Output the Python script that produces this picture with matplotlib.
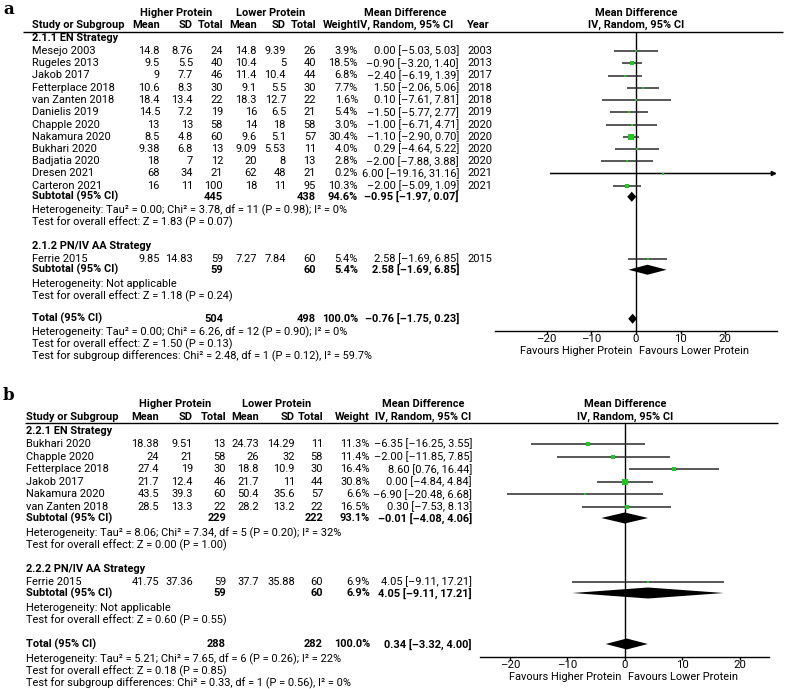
import matplotlib.pyplot as plt
from matplotlib.patches import Polygon

W, H = 787, 689
GREEN = "#1ec81e"
CI_COLOR = "#2a2a2a"
FS = 7.9
plt.rcParams["font.family"] = ["Roboto", "DejaVu Sans"]

# ---------------- panel a ----------------
a_en_names = ["Mesejo 2003", "Rugeles 2013", "Jakob 2017", "Fetterplace 2018",
              "van Zanten 2018", "Danielis 2019", "Chapple 2020", "Nakamura 2020",
              "Bukhari 2020", "Badjatia 2020", "Dresen 2021", "Carteron 2021"]
a_en_hi_mean = [14.8, 9.5, 9, 10.6, 18.4, 14.5, 13, 8.5, 9.38, 18, 68, 16]
a_en_hi_sd = [8.76, 5.5, 7.7, 8.3, 13.4, 7.2, 13, 4.8, 6.8, 7, 34, 11]
a_en_hi_n = [24, 40, 46, 30, 22, 19, 58, 60, 13, 12, 21, 100]
a_en_lo_mean = [14.8, 10.4, 11.4, 9.1, 18.3, 16, 14, 9.6, 9.09, 20, 62, 18]
a_en_lo_sd = [9.39, 5, 10.4, 5.5, 12.7, 6.5, 18, 5.1, 5.53, 8, 48, 11]
a_en_lo_n = [26, 40, 44, 30, 22, 21, 58, 57, 11, 13, 21, 95]
a_en_weight = [3.9, 18.5, 6.8, 7.7, 1.6, 5.4, 3.0, 30.4, 4.0, 2.8, 0.2, 10.3]
a_en_md = [0.00, -0.90, -2.40, 1.50, 0.10, -1.50, -1.00, -1.10, 0.29, -2.00, 6.00, -2.00]
a_en_ci_lo = [-5.03, -3.20, -6.19, -2.06, -7.61, -5.77, -6.71, -2.90, -4.64, -7.88, -19.16, -5.09]
a_en_ci_hi = [5.03, 1.40, 1.39, 5.06, 7.81, 2.77, 4.71, 0.70, 5.22, 3.88, 31.16, 1.09]
a_en_year = [2003, 2013, 2017, 2018, 2018, 2019, 2020, 2020, 2020, 2020, 2021, 2021]
a_en_sub = (445, 438, 94.6, -0.95, -1.97, 0.07)
a_en_het = "Heterogeneity: Tau² = 0.00; Chi² = 3.78, df = 11 (P = 0.98); I² = 0%"
a_en_z = "Test for overall effect: Z = 1.83 (P = 0.07)"

a_pn_names = ["Ferrie 2015"]
a_pn_hi_mean = [9.85]
a_pn_hi_sd = [14.83]
a_pn_hi_n = [59]
a_pn_lo_mean = [7.27]
a_pn_lo_sd = [7.84]
a_pn_lo_n = [60]
a_pn_weight = [5.4]
a_pn_md = [2.58]
a_pn_ci_lo = [-1.69]
a_pn_ci_hi = [6.85]
a_pn_year = [2015]
a_pn_sub = (59, 60, 5.4, 2.58, -1.69, 6.85)
a_pn_het = "Heterogeneity: Not applicable"
a_pn_z = "Test for overall effect: Z = 1.18 (P = 0.24)"

a_total = (504, 498, 100.0, -0.76, -1.75, 0.23)
a_total_notes = ["Heterogeneity: Tau² = 0.00; Chi² = 6.26, df = 12 (P = 0.90); I² = 0%",
                 "Test for overall effect: Z = 1.50 (P = 0.13)",
                 "Test for subgroup differences: Chi² = 2.48, df = 1 (P = 0.12), I² = 59.7%"]

# ---------------- panel b ----------------
b_en_names = ["Bukhari 2020", "Chapple 2020", "Fetterplace 2018", "Jakob 2017",
              "Nakamura 2020", "van Zanten 2018"]
b_en_hi_mean = [18.38, 24, 27.4, 21.7, 43.5, 28.5]
b_en_hi_sd = [9.51, 21, 19, 12.4, 39.3, 13.3]
b_en_hi_n = [13, 58, 30, 46, 60, 22]
b_en_lo_mean = [24.73, 26, 18.8, 21.7, 50.4, 28.2]
b_en_lo_sd = [14.29, 32, 10.9, 11, 35.6, 13.2]
b_en_lo_n = [11, 58, 30, 44, 57, 22]
b_en_weight = [11.3, 11.4, 16.4, 30.8, 6.6, 16.5]
b_en_md = [-6.35, -2.00, 8.60, 0.00, -6.90, 0.30]
b_en_ci_lo = [-16.25, -11.85, 0.76, -4.84, -20.48, -7.53]
b_en_ci_hi = [3.55, 7.85, 16.44, 4.84, 6.68, 8.13]
b_en_sub = (229, 222, 93.1, -0.01, -4.08, 4.06)
b_en_het = "Heterogeneity: Tau² = 8.06; Chi² = 7.34, df = 5 (P = 0.20); I² = 32%"
b_en_z = "Test for overall effect: Z = 0.00 (P = 1.00)"

b_pn_names = ["Ferrie 2015"]
b_pn_hi_mean = [41.75]
b_pn_hi_sd = [37.36]
b_pn_hi_n = [59]
b_pn_lo_mean = [37.7]
b_pn_lo_sd = [35.88]
b_pn_lo_n = [60]
b_pn_weight = [6.9]
b_pn_md = [4.05]
b_pn_ci_lo = [-9.11]
b_pn_ci_hi = [17.21]
b_pn_sub = (59, 60, 6.9, 4.05, -9.11, 17.21)
b_pn_het = "Heterogeneity: Not applicable"
b_pn_z = "Test for overall effect: Z = 0.60 (P = 0.55)"

b_total = (288, 282, 100.0, 0.34, -3.32, 4.00)
b_total_notes = ["Heterogeneity: Tau² = 5.21; Chi² = 7.65, df = 6 (P = 0.26); I² = 22%",
                 "Test for overall effect: Z = 0.18 (P = 0.85)",
                 "Test for subgroup differences: Chi² = 0.33, df = 1 (P = 0.56), I² = 0%"]

ticks = [-20, -10, 0, 10, 20]


def group(title, names, hm, hs, hn, lm, ls, ln, w, md, lo, hi, sub, het, z, year=None):
    return dict(title=title, names=names, hm=hm, hs=hs, hn=hn, lm=lm, ls=ls, ln=ln,
                w=w, md=md, lo=lo, hi=hi, sub=sub, het=het, z=z, year=year)


def ci_str(md, lo, hi):
    return f"{md:.2f} [{lo:.2f}, {hi:.2f}]".replace("-", "–")


def draw_panel(fig, bg, groups, total, notes, L):
    fs_kw = dict(fontsize=FS, va="center")
    bold = dict(fontsize=FS, va="center", fontweight="bold")
    cols = L["cols"]
    bg.text(3, L["label_y"], L["label"], fontsize=12, fontweight="bold",
            family="DejaVu Serif", va="center")
    # column headers
    y1, y2 = L["hdr"]
    bg.text(L["hi_c"], y1, "Higher Protein", ha="center", **bold)
    bg.text(L["lo_c"], y1, "Lower Protein", ha="center", **bold)
    bg.text(L["md_c"], y1, "Mean Difference", ha="center", **bold)
    bg.text(L["md_c"], y2, "IV, Random, 95% CI", ha="center", **bold)
    bg.text(L["study_x"], y2, "Study or Subgroup", ha="left", **bold)
    for cx, lab in zip(cols, ["Mean", "SD", "Total", "Mean", "SD", "Total", "Weight"]):
        bg.text(cx, y2, lab, ha="right", **bold)
    if L.get("year_x"):
        bg.text(L["year_x"], y2, "Year", ha="left", **bold)
    bg.hlines(L["rule_y"], L["rule_x"][0], L["rule_x"][1], color="black", lw=1.0)

    # forest axes: data units horizontally, pixel rows vertically
    x0, x1 = L["ax_px"]
    top, bot = L["rule_y"], L["axis_y"]
    ax = fig.add_axes([x0 / W, 1 - bot / H, (x1 - x0) / W, (bot - top) / H])
    ax.set_xlim(*L["xlim"])
    ax.set_ylim(bot, top)
    ax.patch.set_alpha(0)
    for s in ["top", "left", "right"]:
        ax.spines[s].set_visible(False)
    ax.spines["bottom"].set_linewidth(1.0)
    ax.set_yticks([])
    ax.set_xticks(ticks)
    ax.set_xticklabels([str(t).replace("-", "–") for t in ticks], fontsize=FS + 0.3)
    ax.tick_params(axis="x", length=2.5, width=1.0, pad=0)
    ax.axvline(0, color="black", lw=1.0, zorder=1)
    fav_y = L["fav_y"]
    ax.annotate("Favours Higher Protein", xy=(0, fav_y), xytext=(-2.5, 0),
                textcoords="offset points", ha="right", annotation_clip=False, **fs_kw)
    ax.annotate("Favours Lower Protein", xy=(0, fav_y), xytext=(2.5, 0),
                textcoords="offset points", ha="left", annotation_clip=False, **fs_kw)
    zx = x0 + (0 - L["xlim"][0]) / (L["xlim"][1] - L["xlim"][0]) * (x1 - x0)
    bg.text(zx, y1, "Mean Difference", ha="center", **bold)
    bg.text(zx, y2, "IV, Random, 95% CI", ha="center", **bold)

    def diamond(md, lo, hi, y):
        ax.add_patch(Polygon([(lo, y), (md, y - L["dh"]), (hi, y), (md, y + L["dh"])],
                             closed=True, color="black", lw=0, zorder=3))

    def summary_row(y, label, vals):
        n1, n2, wt, md, lo, hi = vals
        bg.text(L["study_x"], y, label, ha="left", **bold)
        bg.text(cols[2], y, str(n1), ha="right", **bold)
        bg.text(cols[5], y, str(n2), ha="right", **bold)
        bg.text(cols[6], y, f"{wt:.1f}%", ha="right", **bold)
        bg.text(L["ci_x"], y, ci_str(md, lo, hi), ha="right", **bold)
        diamond(md, lo, hi, y)

    y = L["y0"]
    for g in groups:
        bg.text(L["study_x"], y, g["title"], ha="left", **bold)
        y += L["title_gap"]
        for i, name in enumerate(g["names"]):
            bg.text(L["study_x"], y, name, ha="left", **fs_kw)
            vals = [g["hm"][i], g["hs"][i], g["hn"][i], g["lm"][i], g["ls"][i], g["ln"][i]]
            for cx, v in zip(cols[:6], vals):
                bg.text(cx, y, f"{v:g}", ha="right", **fs_kw)
            bg.text(cols[6], y, f"{g['w'][i]:.1f}%", ha="right", **fs_kw)
            bg.text(L["ci_x"], y, ci_str(g["md"][i], g["lo"][i], g["hi"][i]),
                    ha="right", **fs_kw)
            if g["year"] is not None:
                bg.text(L["year_x"], y, str(g["year"][i]), ha="left", **fs_kw)
            lo, hi = g["lo"][i], g["hi"][i]
            if hi > L["arrow_at"]:
                ax.annotate("", xy=(L["xlim"][1], y), xytext=(lo, y),
                            arrowprops=dict(arrowstyle="-|>", lw=1.1, color="black",
                                            mutation_scale=7, shrinkA=0, shrinkB=0))
            else:
                ax.hlines(y, lo, hi, color=CI_COLOR, lw=1.1, zorder=2)
            side = max(2.0, g["w"][i] ** 0.5) * 0.72
            ax.scatter([g["md"][i]], [y], s=side ** 2, marker="s", color=GREEN,
                       linewidths=0, zorder=4)
            last = y
            y += L["step"]
        y = last + L["sub_gap"]
        summary_row(y, "Subtotal (95% CI)", g["sub"])
        y += L["het_gap"]
        bg.text(L["study_x"], y, g["het"], ha="left", **fs_kw)
        y += L["note_gap"]
        bg.text(L["study_x"], y, g["z"], ha="left", **fs_kw)
        y += L["block_gap"]
    summary_row(y, "Total (95% CI)", total)
    y += L["het_gap"]
    for note in notes:
        bg.text(L["study_x"], y, note, ha="left", **fs_kw)
        y += L["note_gap"]


fig = plt.figure(figsize=(W / 100, H / 100), dpi=100)
bg = fig.add_axes([0, 0, 1, 1])
bg.set_xlim(0, W)
bg.set_ylim(H, 0)
bg.axis("off")

groups_a = [
    group("2.1.1 EN Strategy", a_en_names, a_en_hi_mean, a_en_hi_sd, a_en_hi_n,
          a_en_lo_mean, a_en_lo_sd, a_en_lo_n, a_en_weight, a_en_md, a_en_ci_lo,
          a_en_ci_hi, a_en_sub, a_en_het, a_en_z, a_en_year),
    group("2.1.2 PN/IV AA Strategy", a_pn_names, a_pn_hi_mean, a_pn_hi_sd, a_pn_hi_n,
          a_pn_lo_mean, a_pn_lo_sd, a_pn_lo_n, a_pn_weight, a_pn_md, a_pn_ci_lo,
          a_pn_ci_hi, a_pn_sub, a_pn_het, a_pn_z, a_pn_year),
]
groups_b = [
    group("2.2.1 EN Strategy", b_en_names, b_en_hi_mean, b_en_hi_sd, b_en_hi_n,
          b_en_lo_mean, b_en_lo_sd, b_en_lo_n, b_en_weight, b_en_md, b_en_ci_lo,
          b_en_ci_hi, b_en_sub, b_en_het, b_en_z),
    group("2.2.2 PN/IV AA Strategy", b_pn_names, b_pn_hi_mean, b_pn_hi_sd, b_pn_hi_n,
          b_pn_lo_mean, b_pn_lo_sd, b_pn_lo_n, b_pn_weight, b_pn_md, b_pn_ci_lo,
          b_pn_ci_hi, b_pn_sub, b_pn_het, b_pn_z),
]

layout_a = dict(label="a", label_y=9, hdr=(13, 25), rule_y=32, rule_x=(23, 783),
                study_x=32, cols=[160, 193, 223, 257, 286, 316, 358], ci_x=459,
                year_x=467, hi_c=176, lo_c=271, md_c=405, ax_px=(495, 777),
                xlim=(-31.6, 31.6), axis_y=331, fav_y=351, arrow_at=30, dh=5,
                y0=38, title_gap=13, step=12.25, sub_gap=11, het_gap=14,
                note_gap=12, block_gap=23)
layout_b = dict(label="b", label_y=395, hdr=(404, 417), rule_y=423, rule_x=(25, 778),
                study_x=26, cols=[159, 193, 226, 259, 295, 323, 370], ci_x=472,
                year_x=None, hi_c=175, lo_c=277, md_c=423, ax_px=(480, 769),
                xlim=(-25.2, 25.1), axis_y=657, fav_y=677, arrow_at=25, dh=5.5,
                y0=431, title_gap=13, step=12.6, sub_gap=11, het_gap=15,
                note_gap=12, block_gap=24)

draw_panel(fig, bg, groups_a, a_total, a_total_notes, layout_a)
draw_panel(fig, bg, groups_b, b_total, b_total_notes, layout_b)

fig.savefig("out.png", dpi=100)
